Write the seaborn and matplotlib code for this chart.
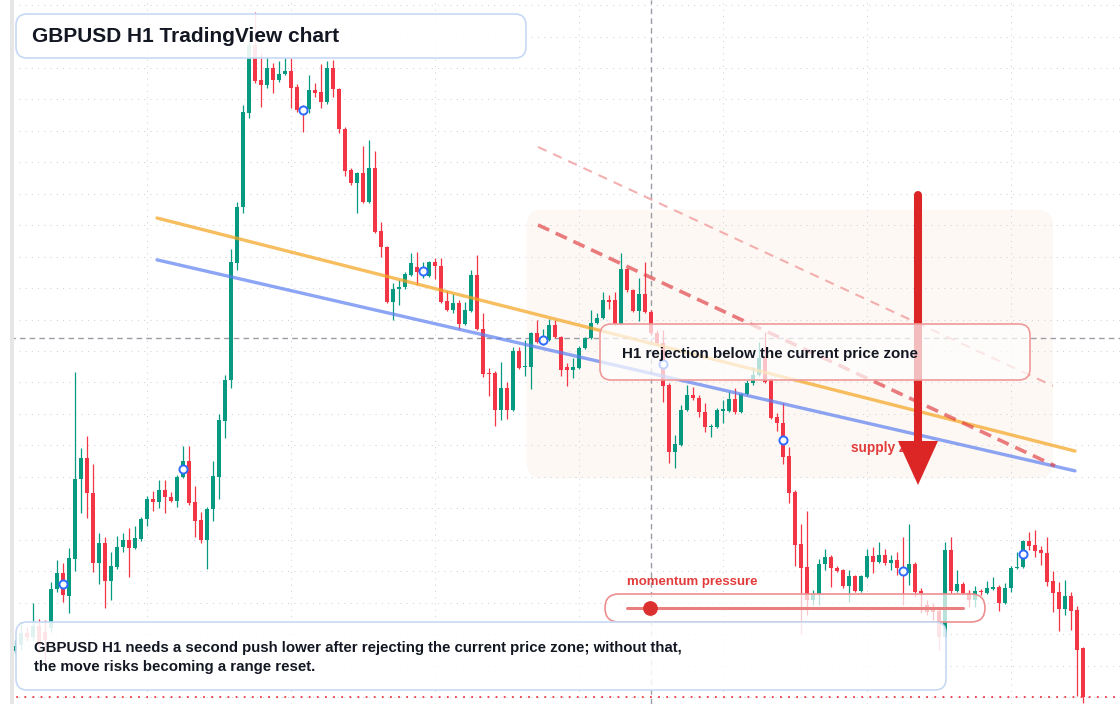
import numpy as np
import pandas as pd
import seaborn as sns
import matplotlib.pyplot as plt
from matplotlib.patches import FancyBboxPatch, Rectangle
from matplotlib.transforms import Affine2D

sns.set_theme(style='white')
plt.rcParams['font.family'] = ['Liberation Sans', 'DejaVu Sans']

W, H = 1120, 704

# GBPUSD H1 candles (one bar per hour)
opens = [1.26546, 1.26565, 1.26604, 1.26591, 1.26626, 1.26607, 1.26619, 1.26743, 1.26794, 1.26721,
         1.26839, 1.27093, 1.27160, 1.27049, 1.26826, 1.26890, 1.26769, 1.26813, 1.26877, 1.26899,
         1.26874, 1.26902, 1.26966, 1.27030, 1.27020, 1.27058, 1.27036, 1.27023, 1.27100, 1.27150,
         1.27020, 1.26963, 1.26899, 1.26998, 1.27100, 1.27278, 1.27408, 1.27780, 1.27958, 1.28257,
         1.28473, 1.28362, 1.28346, 1.28400, 1.28362, 1.28381, 1.28391, 1.28340, 1.28273, 1.28270,
         1.28330, 1.28324, 1.28292, 1.28400, 1.28333, 1.28206, 1.28076, 1.28035, 1.28066, 1.27974,
         1.28082, 1.27882, 1.27831, 1.27656, 1.27697, 1.27704, 1.27742, 1.27767, 1.27745, 1.27739,
         1.27783, 1.27771, 1.27659, 1.27631, 1.27653, 1.27586, 1.27628, 1.27742, 1.27570, 1.27430,
         1.27430, 1.27313, 1.27383, 1.27313, 1.27500, 1.27449, 1.27449, 1.27558, 1.27529, 1.27535,
         1.27583, 1.27545, 1.27449, 1.27440, 1.27446, 1.27510, 1.27542, 1.27589, 1.27605, 1.27662,
         1.27662, 1.27586, 1.27761, 1.27694, 1.27628, 1.27682, 1.27624, 1.27558, 1.27526, 1.27392,
         1.27179, 1.27201, 1.27313, 1.27360, 1.27351, 1.27306, 1.27259, 1.27259, 1.27310, 1.27310,
         1.27348, 1.27306, 1.27364, 1.27399, 1.27424, 1.27478, 1.27408, 1.27290, 1.27271, 1.27166,
         1.27052, 1.26887, 1.26813, 1.26708, 1.26728, 1.26823, 1.26845, 1.26810, 1.26804, 1.26753,
         1.26785, 1.26737, 1.26782, 1.26848, 1.26829, 1.26852, 1.26826, 1.26836, 1.26810, 1.26794,
         1.26823, 1.26737, 1.26693, 1.26683, 1.26673, 1.26591, 1.26867, 1.26737, 1.26759, 1.26731,
         1.26708, 1.26737, 1.26731, 1.26743, 1.26750, 1.26699, 1.26747, 1.26810, 1.26813, 1.26896,
         1.26883, 1.26867, 1.26858, 1.26769, 1.26734, 1.26680, 1.26721, 1.26677, 1.26556]
highs = [1.26581, 1.26639, 1.26623, 1.26699, 1.26648, 1.26645, 1.26766, 1.26836, 1.26826, 1.26874,
         1.27434, 1.27192, 1.27230, 1.27141, 1.26922, 1.26909, 1.26861, 1.26912, 1.26922, 1.26937,
         1.26944, 1.26972, 1.27039, 1.27055, 1.27090, 1.27090, 1.27052, 1.27106, 1.27198, 1.27198,
         1.27071, 1.26988, 1.27004, 1.27150, 1.27300, 1.27424, 1.27825, 1.27974, 1.28283, 1.28489,
         1.28578, 1.28448, 1.28435, 1.28416, 1.28422, 1.28432, 1.28432, 1.28349, 1.28283, 1.28378,
         1.28353, 1.28413, 1.28422, 1.28426, 1.28337, 1.28213, 1.28082, 1.28070, 1.28152, 1.28171,
         1.28136, 1.27911, 1.27834, 1.27717, 1.27726, 1.27752, 1.27812, 1.27815, 1.27783, 1.27787,
         1.27796, 1.27796, 1.27691, 1.27682, 1.27662, 1.27656, 1.27758, 1.27806, 1.27621, 1.27446,
         1.27437, 1.27465, 1.27402, 1.27513, 1.27513, 1.27535, 1.27561, 1.27599, 1.27570, 1.27602,
         1.27599, 1.27548, 1.27462, 1.27478, 1.27516, 1.27545, 1.27631, 1.27621, 1.27688, 1.27678,
         1.27688, 1.27812, 1.27764, 1.27697, 1.27732, 1.27783, 1.27631, 1.27567, 1.27567, 1.27399,
         1.27233, 1.27329, 1.27392, 1.27386, 1.27360, 1.27335, 1.27268, 1.27319, 1.27344, 1.27370,
         1.27383, 1.27367, 1.27408, 1.27449, 1.27529, 1.27561, 1.27414, 1.27303, 1.27335, 1.27195,
         1.27058, 1.26950, 1.26991, 1.26740, 1.26839, 1.26871, 1.26852, 1.26817, 1.26807, 1.26804,
         1.26788, 1.26788, 1.26871, 1.26877, 1.26893, 1.26871, 1.26852, 1.26861, 1.26909, 1.26950,
         1.26829, 1.26747, 1.26708, 1.26699, 1.26686, 1.26893, 1.26909, 1.26804, 1.26766, 1.26740,
         1.26753, 1.26743, 1.26769, 1.26782, 1.26756, 1.26763, 1.26817, 1.26861, 1.26899, 1.26925,
         1.26931, 1.26880, 1.26909, 1.26801, 1.26766, 1.26772, 1.26734, 1.26689, 1.26559]
lows = [1.26540, 1.26549, 1.26578, 1.26581, 1.26540, 1.26511, 1.26607, 1.26734, 1.26702, 1.26667,
        1.26801, 1.26985, 1.26969, 1.26798, 1.26759, 1.26683, 1.26708, 1.26807, 1.26861, 1.26782,
        1.26871, 1.26896, 1.26944, 1.26991, 1.27001, 1.26985, 1.27020, 1.27004, 1.27096, 1.27011,
        1.26909, 1.26890, 1.26807, 1.26960, 1.27030, 1.27224, 1.27383, 1.27758, 1.27939, 1.28241,
        1.28353, 1.28276, 1.28337, 1.28321, 1.28356, 1.28378, 1.28273, 1.28260, 1.28197, 1.28257,
        1.28308, 1.28273, 1.28286, 1.28308, 1.28194, 1.28057, 1.28028, 1.27939, 1.27971, 1.27971,
        1.27876, 1.27799, 1.27653, 1.27599, 1.27647, 1.27697, 1.27739, 1.27710, 1.27732, 1.27736,
        1.27729, 1.27653, 1.27628, 1.27621, 1.27570, 1.27583, 1.27624, 1.27567, 1.27418, 1.27357,
        1.27262, 1.27281, 1.27284, 1.27310, 1.27443, 1.27421, 1.27379, 1.27526, 1.27519, 1.27532,
        1.27542, 1.27421, 1.27389, 1.27414, 1.27443, 1.27507, 1.27538, 1.27586, 1.27602, 1.27634,
        1.27583, 1.27583, 1.27688, 1.27624, 1.27596, 1.27621, 1.27551, 1.27519, 1.27338, 1.27144,
        1.27128, 1.27198, 1.27310, 1.27344, 1.27290, 1.27243, 1.27227, 1.27255, 1.27271, 1.27306,
        1.27300, 1.27303, 1.27360, 1.27392, 1.27421, 1.27399, 1.27284, 1.27246, 1.27141, 1.27017,
        1.26817, 1.26600, 1.26661, 1.26693, 1.26693, 1.26804, 1.26750, 1.26798, 1.26747, 1.26702,
        1.26734, 1.26734, 1.26778, 1.26794, 1.26826, 1.26820, 1.26804, 1.26788, 1.26693, 1.26756,
        1.26718, 1.26667, 1.26661, 1.26645, 1.26549, 1.26588, 1.26731, 1.26734, 1.26728, 1.26686,
        1.26686, 1.26724, 1.26728, 1.26740, 1.26673, 1.26696, 1.26734, 1.26807, 1.26810, 1.26867,
        1.26845, 1.26820, 1.26753, 1.26670, 1.26610, 1.26661, 1.26613, 1.26403, 1.26381]
closes = [1.26562, 1.26604, 1.26591, 1.26626, 1.26565, 1.26581, 1.26743, 1.26794, 1.26724, 1.26842,
          1.27093, 1.27160, 1.27049, 1.26826, 1.26890, 1.26769, 1.26817, 1.26877, 1.26899, 1.26874,
          1.26906, 1.26966, 1.27030, 1.27020, 1.27058, 1.27036, 1.27023, 1.27100, 1.27150, 1.27017,
          1.26960, 1.26899, 1.26998, 1.27103, 1.27281, 1.27408, 1.27783, 1.27958, 1.28260, 1.28473,
          1.28359, 1.28346, 1.28400, 1.28362, 1.28381, 1.28391, 1.28337, 1.28267, 1.28263, 1.28330,
          1.28321, 1.28292, 1.28400, 1.28333, 1.28206, 1.28073, 1.28035, 1.28066, 1.27974, 1.28082,
          1.27879, 1.27831, 1.27656, 1.27697, 1.27704, 1.27745, 1.27780, 1.27752, 1.27764, 1.27783,
          1.27771, 1.27656, 1.27631, 1.27653, 1.27586, 1.27631, 1.27742, 1.27570, 1.27427, 1.27427,
          1.27313, 1.27383, 1.27313, 1.27500, 1.27446, 1.27453, 1.27558, 1.27529, 1.27542, 1.27583,
          1.27545, 1.27440, 1.27440, 1.27449, 1.27510, 1.27542, 1.27589, 1.27605, 1.27662, 1.27656,
          1.27586, 1.27761, 1.27694, 1.27628, 1.27682, 1.27624, 1.27558, 1.27526, 1.27389, 1.27179,
          1.27205, 1.27313, 1.27360, 1.27351, 1.27306, 1.27259, 1.27262, 1.27313, 1.27316, 1.27348,
          1.27306, 1.27364, 1.27399, 1.27424, 1.27478, 1.27402, 1.27287, 1.27271, 1.27163, 1.27049,
          1.26883, 1.26810, 1.26708, 1.26728, 1.26823, 1.26845, 1.26810, 1.26801, 1.26753, 1.26785,
          1.26737, 1.26785, 1.26848, 1.26829, 1.26852, 1.26826, 1.26836, 1.26810, 1.26794, 1.26823,
          1.26734, 1.26731, 1.26670, 1.26670, 1.26591, 1.26867, 1.26737, 1.26759, 1.26731, 1.26708,
          1.26737, 1.26734, 1.26747, 1.26750, 1.26699, 1.26747, 1.26810, 1.26813, 1.26896, 1.26880,
          1.26864, 1.26858, 1.26766, 1.26731, 1.26680, 1.26721, 1.26673, 1.26549, 1.26400]

# drawing tool anchors (bar index, price)
orange_bars = [23.67, 176.67]
orange_prices = [1.27923, 1.27182]
blue_bars = [23.67, 176.67]
blue_prices = [1.27790, 1.27119]
reject_bars = [87.17, 173.33]
reject_prices = [1.27901, 1.27135]
upper_bars = [87.17, 173.0]
upper_prices = [1.28149, 1.27389]
supply_bars = [85.3, 173.0]
supply_prices = [1.27096, 1.27949]
arrow_bar = 150.5
arrow_prices = [1.27996, 1.27074]
cross_bar = 106
cross_price = 1.27542
signal_first, signal_every = 8, 20

title_text = 'GBPUSD H1 TradingView chart'
reject_text = 'H1 rejection below the current price zone'
supply_text = 'supply zone'
momentum_text = 'momentum pressure'
summary_text = ('GBPUSD H1 needs a second push lower after rejecting the current price zone; without that,\n'
                'the move risks becoming a range reset.')

GREEN = '#089981'
RED = '#f23645'
INK = '#131722'
LABEL_RED = '#e23b3b'

df = pd.DataFrame({'open': opens, 'high': highs, 'low': lows, 'close': closes})
df['bar'] = np.arange(len(df))
df['color'] = np.where(df['close'] >= df['open'], GREEN, RED)
df['body_lo'] = df[['open', 'close']].min(axis=1)
df['body_h'] = (df['close'] - df['open']).abs().clip(lower=0.00003)

XLIM = (-2.5, 184.17)
YLIM = (1.263777, 1.286162)
ppx = (YLIM[1] - YLIM[0]) / H  # price per pixel

fig = plt.figure(figsize=(W / 100, H / 100), dpi=100)
ax = fig.add_axes([0, 0, 1, 1])

# pixel coords (origin top-left) for the screen overlays
px = Affine2D().scale(1 / W, -1 / H).translate(0, 1) + fig.transFigure

# supply zone
ax.add_patch(FancyBboxPatch((supply_bars[0], supply_prices[0]), supply_bars[1] - supply_bars[0],
                            supply_prices[1] - supply_prices[0],
                            boxstyle='round,pad=0,rounding_size=2.5', mutation_aspect=ppx * 6,
                            fc='#f6dcc8', alpha=0.2, lw=0, zorder=0.5))

# crosshair
ax.axvline(cross_bar, color='#9a9da5', lw=1, ls=(0, (4, 3)), zorder=1.5)
ax.axhline(cross_price, color='#9a9da5', lw=1, ls=(0, (4, 3)), zorder=1.5)

# candles
ax.vlines(df['bar'], df['low'], df['high'], colors=df['color'].tolist(), lw=0.9, zorder=2)
ax.bar(df['bar'], df['body_h'], bottom=df['body_lo'], width=0.78,
       color=df['color'].tolist(), lw=0, zorder=2.1)

# trend lines
sns.lineplot(x=orange_bars, y=orange_prices, ax=ax, color='#f5a623', lw=2.4, alpha=0.72, zorder=3)
sns.lineplot(x=blue_bars, y=blue_prices, ax=ax, color='#5b7ff0', lw=2.4, alpha=0.7, zorder=3)
sns.lineplot(x=reject_bars, y=reject_prices, ax=ax, color='#e0393e', lw=2.6, alpha=0.65,
             linestyle=(0, (3.4, 2)), zorder=3)
sns.lineplot(x=upper_bars, y=upper_prices, ax=ax, color='#ef8f8f', lw=1.5, alpha=0.7,
             linestyle=(0, (4.5, 3.5)), zorder=3)

# signal markers every 20 bars at body midpoint
sig = df.iloc[signal_first::signal_every].copy()
sig['mid'] = (sig['open'] + sig['close']) / 2
sns.scatterplot(x=sig['bar'], y=sig['mid'], ax=ax, s=34, color='white',
                edgecolor='#2f6bff', linewidth=1.4, zorder=3.5)

# last price line
ax.axhline(closes[-1], color=RED, lw=1.3, ls=(0, (1, 3.5)), zorder=3.6)

# supply zone label and arrow
ax.text(851, 448, supply_text, transform=px, color=LABEL_RED, fontsize=9.8,
        fontweight='bold', va='center', zorder=4.2)
ax.plot([arrow_bar, arrow_bar], [arrow_prices[0], arrow_prices[1] + 30 * ppx],
        color='#dc2626', lw=5.8, solid_capstyle='round', zorder=4.5)
ax.annotate('', xy=(arrow_bar, arrow_prices[1]), xytext=(arrow_bar, arrow_prices[1] + 80 * ppx),
            arrowprops=dict(arrowstyle='-|>,head_length=31.7,head_width=14.4', mutation_scale=1,
                            lw=0, color='#dc2626', shrinkA=0, shrinkB=0), zorder=4.5)

# rejection callout
ax.add_patch(FancyBboxPatch((600, 324), 430, 56, boxstyle='round,pad=0,rounding_size=11',
                            fc=(1, 1, 1, 0.7), ec='#ee9a9a', lw=1.2, transform=px, zorder=5))
ax.text(622, 354, reject_text, transform=px, color=INK, fontsize=10.9, fontweight='bold',
        va='center', zorder=5.1)

# momentum gauge
ax.add_patch(FancyBboxPatch((605, 594), 380, 28, boxstyle='round,pad=0,rounding_size=14',
                            fc=(1, 1, 1, 0.72), ec='#ee8f8f', lw=1.2, transform=px, zorder=5))
ax.plot([627, 963], [607.5, 607.5], transform=px, color='#e98080', lw=2.2, zorder=5.2)
ax.plot([650], [607.5], transform=px, marker='o', ms=9.6, color='#dc2f2f', zorder=5.3)
ax.text(627, 582, momentum_text, transform=px, color=LABEL_RED, fontsize=9.5,
        fontweight='bold', va='center', zorder=5.1)

# left edge strip
ax.add_patch(Rectangle((0, 0), 10, H, transform=px, fc='white', lw=0, zorder=5.5))
ax.add_patch(Rectangle((10, 0), 4, H, transform=px, fc='#e6e6e6', lw=0, zorder=5.6))

# title and summary boxes
ax.add_patch(FancyBboxPatch((16, 14), 510, 44, boxstyle='round,pad=0,rounding_size=11',
                            fc=(1, 1, 1, 0.9), ec='#c6d9f3', lw=1.2, transform=px, zorder=6))
ax.text(32, 36, title_text, transform=px, color=INK, fontsize=15, fontweight='bold',
        va='center', zorder=6.1)
ax.add_patch(FancyBboxPatch((16, 622), 930, 68, boxstyle='round,pad=0,rounding_size=11',
                            fc=(1, 1, 1, 0.88), ec='#c6d9f3', lw=1.2, transform=px, zorder=6))
ax.text(34, 657.5, summary_text, transform=px, color=INK, fontsize=10.85, fontweight='bold',
        va='center', linespacing=1.5, zorder=6.1)

# grid ticks first (set_ticks can widen the view), limits last
ax.set_xticks(np.arange(22, 185, 24))
ax.set_yticks(np.arange(1.264, 1.2862, 0.001))
ax.grid(True, color='#cfd3da', linestyle=(0, (1, 5)), lw=0.75)
ax.set_axisbelow(True)
ax.tick_params(length=0, labelleft=False, labelbottom=False)
ax.set_xlabel('')
ax.set_ylabel('')
for s in ax.spines.values():
    s.set_visible(False)
ax.set_xlim(*XLIM)
ax.set_ylim(*YLIM)

fig.savefig('out.png', dpi=100)
